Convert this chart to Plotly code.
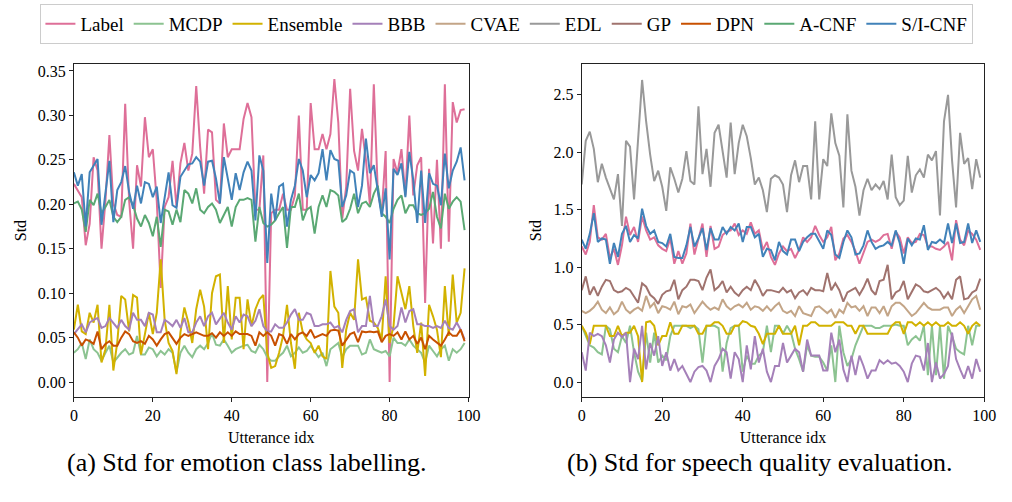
import plotly.graph_objects as go

idx = list(range(100))

# ---------------- (a) emotion class labelling ----------------
a_label = [0.223,0.215,0.208,0.154,0.178,0.253,0.238,0.150,0.204,0.278,
           0.201,0.188,0.186,0.313,0.204,0.150,0.244,0.220,0.298,0.253,
           0.262,0.204,0.106,0.197,0.208,0.249,0.197,0.246,0.269,0.238,
           0.257,0.333,0.264,0.212,0.284,0.281,0.205,0.201,0.291,0.253,
           0.262,0.262,0.262,0.296,0.314,0.298,0.194,0.194,0.255,0.000,
           0.190,0.194,0.194,0.212,0.194,0.194,0.210,0.300,0.194,0.194,
           0.314,0.262,0.262,0.279,0.262,0.279,0.341,0.292,0.184,0.220,
           0.330,0.260,0.238,0.285,0.250,0.200,0.335,0.215,0.190,0.260,
           0.000,0.251,0.235,0.262,0.210,0.300,0.210,0.244,0.253,0.089,
           0.240,0.156,0.250,0.150,0.335,0.158,0.315,0.292,0.306,0.307]
a_mcdp = [0.033,0.037,0.044,0.026,0.048,0.037,0.033,0.024,0.033,0.041,
          0.022,0.028,0.033,0.037,0.031,0.033,0.052,0.031,0.031,0.039,
          0.037,0.029,0.035,0.031,0.037,0.033,0.011,0.033,0.041,0.033,
          0.028,0.037,0.041,0.037,0.044,0.055,0.042,0.041,0.048,0.041,
          0.033,0.037,0.039,0.041,0.042,0.035,0.033,0.042,0.037,0.028,
          0.024,0.024,0.029,0.033,0.041,0.029,0.033,0.039,0.033,0.035,
          0.041,0.035,0.028,0.033,0.018,0.037,0.041,0.044,0.028,0.037,
          0.041,0.041,0.041,0.031,0.033,0.048,0.037,0.035,0.033,0.035,
          0.029,0.050,0.044,0.044,0.041,0.048,0.041,0.037,0.033,0.022,
          0.041,0.035,0.029,0.037,0.041,0.024,0.037,0.033,0.037,0.044]
a_ens = [0.059,0.087,0.057,0.054,0.078,0.067,0.087,0.022,0.037,0.087,
         0.013,0.045,0.097,0.093,0.057,0.098,0.095,0.031,0.054,0.078,
         0.054,0.078,0.138,0.070,0.044,0.035,0.009,0.056,0.084,0.067,
         0.044,0.082,0.104,0.085,0.037,0.100,0.119,0.121,0.044,0.108,
         0.048,0.095,0.095,0.037,0.093,0.063,0.082,0.093,0.098,0.033,
         0.016,0.018,0.033,0.052,0.087,0.044,0.015,0.078,0.056,0.048,
         0.044,0.033,0.041,0.029,0.026,0.125,0.085,0.078,0.016,0.059,
         0.078,0.070,0.138,0.093,0.095,0.069,0.067,0.061,0.048,0.119,
         0.044,0.063,0.119,0.100,0.082,0.108,0.063,0.033,0.067,0.007,
         0.087,0.074,0.059,0.028,0.108,0.052,0.121,0.067,0.078,0.128]
a_bbb = [0.054,0.059,0.065,0.056,0.067,0.070,0.072,0.061,0.063,0.072,
         0.067,0.061,0.070,0.063,0.059,0.078,0.070,0.070,0.063,0.078,
         0.076,0.056,0.056,0.070,0.067,0.063,0.070,0.061,0.072,0.056,
         0.056,0.067,0.074,0.063,0.074,0.078,0.065,0.072,0.078,0.067,
         0.059,0.074,0.067,0.076,0.074,0.063,0.069,0.082,0.063,0.057,
         0.057,0.065,0.061,0.061,0.067,0.076,0.082,0.070,0.070,0.078,
         0.076,0.063,0.063,0.065,0.065,0.067,0.061,0.063,0.056,0.070,
         0.080,0.082,0.056,0.063,0.063,0.097,0.063,0.063,0.074,0.093,
         0.063,0.059,0.063,0.084,0.067,0.080,0.082,0.065,0.065,0.063,
         0.063,0.061,0.063,0.061,0.069,0.061,0.059,0.067,0.059,0.048]
a_dpn = [0.056,0.050,0.041,0.048,0.046,0.043,0.057,0.037,0.043,0.046,
         0.041,0.041,0.050,0.057,0.054,0.046,0.044,0.046,0.043,0.052,
         0.048,0.041,0.048,0.054,0.056,0.050,0.043,0.050,0.054,0.052,
         0.054,0.056,0.054,0.052,0.052,0.055,0.050,0.056,0.052,0.056,
         0.052,0.057,0.054,0.054,0.054,0.052,0.041,0.056,0.052,0.056,
         0.052,0.041,0.054,0.052,0.043,0.054,0.048,0.054,0.056,0.052,
         0.059,0.050,0.052,0.054,0.052,0.058,0.059,0.058,0.041,0.048,
         0.054,0.056,0.045,0.057,0.056,0.057,0.056,0.057,0.045,0.052,
         0.054,0.052,0.056,0.048,0.057,0.048,0.052,0.043,0.050,0.037,
         0.052,0.048,0.044,0.041,0.048,0.056,0.052,0.052,0.059,0.046]
a_acnf = [0.201,0.203,0.194,0.169,0.205,0.199,0.212,0.190,0.197,0.205,
          0.186,0.180,0.186,0.205,0.208,0.199,0.184,0.175,0.188,0.179,
          0.164,0.186,0.152,0.194,0.192,0.177,0.194,0.180,0.216,0.212,
          0.201,0.218,0.194,0.190,0.197,0.201,0.194,0.179,0.188,0.197,
          0.175,0.197,0.205,0.205,0.207,0.205,0.158,0.197,0.179,0.175,
          0.177,0.182,0.190,0.197,0.151,0.197,0.197,0.212,0.182,0.194,
          0.197,0.167,0.197,0.210,0.197,0.216,0.214,0.210,0.180,0.184,
          0.195,0.212,0.190,0.201,0.203,0.197,0.212,0.221,0.190,0.186,
          0.179,0.195,0.205,0.210,0.190,0.199,0.199,0.190,0.188,0.190,
          0.195,0.214,0.186,0.173,0.212,0.195,0.203,0.208,0.203,0.171]
a_sicnf = [0.236,0.221,0.234,0.175,0.236,0.244,0.251,0.177,0.214,0.249,
           0.180,0.216,0.225,0.243,0.214,0.195,0.221,0.201,0.225,0.223,
           0.208,0.220,0.179,0.207,0.236,0.199,0.196,0.231,0.238,0.245,
           0.246,0.253,0.248,0.221,0.248,0.249,0.229,0.201,0.253,0.227,
           0.205,0.235,0.216,0.236,0.248,0.238,0.182,0.255,0.238,0.134,
           0.212,0.182,0.220,0.223,0.175,0.205,0.221,0.251,0.238,0.208,
           0.233,0.227,0.235,0.262,0.227,0.261,0.251,0.249,0.197,0.210,
           0.238,0.235,0.197,0.221,0.274,0.235,0.244,0.216,0.186,0.218,
           0.138,0.240,0.233,0.246,0.208,0.259,0.227,0.179,0.238,0.179,
           0.235,0.223,0.221,0.199,0.257,0.218,0.238,0.248,0.264,0.227]

# ---------------- (b) speech quality evaluation ----------------
b_label = [1.18,1.11,1.22,1.54,1.26,1.24,1.29,1.08,1.16,1.02,
           1.19,1.44,1.28,1.35,1.22,1.44,1.32,1.24,1.26,1.19,
           1.16,1.14,1.25,1.03,1.14,1.03,1.12,1.38,1.11,1.24,
           1.38,1.09,1.36,1.16,1.18,1.28,1.31,1.32,1.38,1.28,
           1.32,1.29,1.39,1.29,1.32,1.15,1.22,1.09,1.02,1.12,
           1.18,1.14,1.16,1.08,1.15,1.26,1.22,1.26,1.36,1.28,
           1.22,1.26,1.35,1.06,1.12,1.25,1.28,1.22,1.14,1.03,
           1.12,1.22,1.24,1.22,1.24,1.28,1.29,1.16,1.31,1.26,
           1.12,1.26,1.21,1.22,1.29,1.28,1.18,1.18,1.16,1.15,
           1.18,1.22,1.06,1.41,1.24,1.19,1.32,1.29,1.24,1.15]
b_mcdp = [0.49,0.40,0.32,0.30,0.26,0.24,0.49,0.46,0.29,0.26,
          0.40,0.34,0.49,0.26,0.09,0.01,0.43,0.17,0.43,0.17,
          0.23,0.19,0.40,0.49,0.49,0.49,0.49,0.47,0.49,0.46,
          0.17,0.49,0.49,0.49,0.47,0.09,0.34,0.47,0.49,0.49,
          0.09,0.23,0.16,0.16,0.23,0.26,0.49,0.26,0.49,0.49,
          0.42,0.49,0.43,0.29,0.20,0.09,0.32,0.23,0.22,0.22,
          0.17,0.10,0.32,0.00,0.49,0.26,0.14,0.20,0.32,0.40,
          0.49,0.49,0.49,0.47,0.47,0.49,0.49,0.49,0.50,0.49,
          0.49,0.32,0.37,0.40,0.36,0.49,0.06,0.49,0.06,0.49,
          0.03,0.49,0.40,0.29,0.26,0.24,0.49,0.32,0.49,0.49]
b_ens = [0.49,0.43,0.33,0.49,0.49,0.49,0.49,0.40,0.40,0.49,
         0.40,0.43,0.43,0.49,0.40,0.00,0.52,0.53,0.49,0.32,
         0.40,0.40,0.52,0.42,0.42,0.49,0.49,0.49,0.49,0.42,
         0.42,0.49,0.49,0.52,0.52,0.49,0.42,0.42,0.49,0.49,
         0.53,0.52,0.49,0.48,0.42,0.33,0.42,0.42,0.42,0.49,
         0.42,0.42,0.42,0.49,0.32,0.49,0.49,0.52,0.52,0.49,
         0.49,0.49,0.49,0.52,0.52,0.52,0.49,0.49,0.42,0.49,
         0.49,0.42,0.42,0.42,0.42,0.42,0.42,0.49,0.52,0.52,
         0.42,0.52,0.52,0.49,0.52,0.49,0.52,0.49,0.52,0.49,
         0.49,0.52,0.49,0.49,0.52,0.49,0.42,0.49,0.52,0.49]
b_bbb = [0.26,0.10,0.43,0.40,0.42,0.40,0.32,0.17,0.37,0.43,
         0.39,0.43,0.00,0.29,0.20,0.49,0.11,0.34,0.23,0.40,
         0.14,0.26,0.10,0.20,0.10,0.14,0.07,0.00,0.09,0.13,
         0.14,0.10,0.00,0.14,0.20,0.29,0.26,0.03,0.26,0.20,
         0.00,0.32,0.11,0.40,0.17,0.29,0.09,0.00,0.14,0.14,
         0.34,0.17,0.23,0.29,0.26,0.09,0.37,0.23,0.23,0.23,
         0.10,0.10,0.43,0.26,0.37,0.11,0.00,0.23,0.06,0.23,
         0.14,0.03,0.10,0.10,0.19,0.16,0.19,0.16,0.17,0.14,
         0.09,0.00,0.16,0.23,0.22,0.10,0.34,0.00,0.17,0.03,
         0.07,0.14,0.43,0.20,0.11,0.03,0.14,0.03,0.20,0.09]
b_cvae = [0.62,0.60,0.62,0.65,0.70,0.63,0.60,0.65,0.59,0.62,
          0.70,0.63,0.60,0.63,0.65,0.62,0.75,0.65,0.69,0.60,
          0.66,0.65,0.63,0.70,0.59,0.66,0.65,0.675,0.60,0.65,
          0.70,0.66,0.63,0.65,0.63,0.72,0.66,0.63,0.66,0.675,
          0.65,0.69,0.63,0.66,0.65,0.62,0.66,0.62,0.66,0.69,
          0.62,0.60,0.62,0.575,0.66,0.60,0.59,0.575,0.65,0.66,
          0.63,0.60,0.63,0.56,0.63,0.60,0.69,0.65,0.66,0.62,
          0.66,0.575,0.65,0.65,0.60,0.66,0.575,0.66,0.69,0.69,
          0.66,0.62,0.575,0.60,0.65,0.69,0.65,0.63,0.63,0.63,
          0.65,0.65,0.575,0.63,0.66,0.60,0.66,0.72,0.75,0.63]
b_edl = [1.72,2.10,2.18,2.03,1.74,1.90,1.78,1.68,1.59,1.81,
         1.36,2.10,2.05,1.59,2.13,2.63,2.27,1.98,1.75,1.84,
         1.70,1.49,1.87,1.77,1.65,1.77,2.01,1.75,1.72,2.40,
         1.81,2.03,1.70,2.17,2.24,2.01,1.78,2.26,1.81,2.08,
         2.24,2.14,1.95,1.72,1.78,1.67,1.48,1.77,1.80,1.78,
         1.72,1.48,1.80,1.93,1.74,1.88,1.88,1.59,2.27,1.59,
         1.94,1.88,2.34,2.08,1.97,1.52,2.33,1.84,1.70,1.45,
         1.67,1.77,1.67,1.72,1.68,1.75,1.59,1.98,1.61,1.54,
         1.58,1.97,1.65,1.80,1.85,1.78,1.98,1.93,2.01,1.45,
         2.27,2.50,1.93,1.52,2.17,1.90,1.95,1.68,1.94,1.78]
b_gp = [0.80,0.92,0.76,0.83,0.75,0.83,0.89,0.88,0.80,0.78,
        0.79,0.82,0.80,0.75,0.69,0.86,0.83,0.76,0.73,0.68,
        0.76,0.79,0.80,0.89,0.72,0.80,0.83,0.89,0.89,0.88,
        0.80,0.91,0.98,0.80,0.83,0.88,0.78,0.83,0.78,0.75,
        0.80,0.83,0.80,0.89,0.83,0.75,0.80,0.80,0.79,0.78,
        0.82,0.78,0.80,0.73,0.78,0.80,0.76,0.82,0.80,0.80,
        0.79,0.95,0.80,0.86,0.80,0.70,0.78,0.80,0.82,0.76,
        0.82,0.90,0.80,0.76,0.88,0.89,1.02,0.72,0.78,0.80,
        0.88,0.72,0.79,0.85,0.83,0.79,0.78,0.80,0.82,0.79,
        0.73,0.78,0.72,0.89,0.92,0.72,0.73,0.78,0.80,0.90]
b_sicnf = [1.24,1.16,1.29,1.47,1.22,1.25,1.24,1.03,1.21,1.09,
           1.29,1.36,1.22,1.28,1.25,1.51,1.36,1.29,1.32,1.22,
           1.21,1.18,1.29,1.09,1.08,1.08,1.19,1.35,1.18,1.25,
           1.34,1.15,1.34,1.24,1.24,1.35,1.29,1.35,1.32,1.38,
           1.22,1.35,1.35,1.26,1.29,1.09,1.16,1.15,1.06,1.22,
           1.14,1.11,1.24,1.24,1.14,1.22,1.26,1.29,1.29,1.22,
           1.16,1.32,1.28,1.11,1.08,1.22,1.32,1.26,1.11,1.12,
           1.19,1.32,1.22,1.16,1.18,1.19,1.22,1.19,1.32,1.21,
           1.03,1.25,1.19,1.25,1.24,1.365,1.15,1.22,1.21,1.24,
           1.21,1.38,1.21,1.38,1.21,1.22,1.38,1.21,1.32,1.22]

methods = ["Label", "MCDP", "Ensemble", "BBB", "CVAE", "EDL", "GP", "DPN", "A-CNF", "S/I-CNF"]
colors = ["#de6f98", "#8cc391", "#d2b200", "#a580b9", "#c3a587",
          "#999999", "#a0736e", "#c85000", "#5aa873", "#4182b9"]
left_data = {"Label": a_label, "MCDP": a_mcdp, "Ensemble": a_ens, "BBB": a_bbb,
             "DPN": a_dpn, "A-CNF": a_acnf, "S/I-CNF": a_sicnf}
right_data = {"Label": b_label, "MCDP": b_mcdp, "Ensemble": b_ens, "BBB": b_bbb,
              "CVAE": b_cvae, "EDL": b_edl, "GP": b_gp, "S/I-CNF": b_sicnf}

FONT = "Liberation Serif, Times New Roman, serif"
W, H = 1012, 502

fig = go.Figure()
for m, c in zip(methods, colors):
    first = True
    for data, xa, ya in ((left_data, "x", "y"), (right_data, "x2", "y2")):
        if m in data:
            fig.add_trace(go.Scatter(x=idx, y=data[m], mode="lines", name=m,
                                     line=dict(color=c, width=2),
                                     xaxis=xa, yaxis=ya, legendgroup=m,
                                     showlegend=first))
            first = False

def px_x(p):
    return p / W

def px_y(p):
    return 1 - p / H

axis_common = dict(showline=True, mirror=True, linecolor="#222", linewidth=1,
                   ticks="outside", ticklen=4, tickcolor="#222", showgrid=False,
                   zeroline=False, tickfont=dict(size=16, family=FONT, color="black"))

ydom = [px_y(397), px_y(63)]
fig.update_layout(
    width=W, height=H, autosize=False,
    margin=dict(l=0, r=0, t=0, b=0),
    paper_bgcolor="white", plot_bgcolor="white",
    font=dict(family=FONT, color="black", size=16),
    xaxis=dict(domain=[px_x(71), px_x(472)], range=[0, 100], tickvals=[0, 20, 40, 60, 80, 100],
               title=dict(text="Utterance idx", standoff=8, font=dict(size=16)), anchor="y", **axis_common),
    yaxis=dict(domain=ydom, range=[-0.017, 0.358], tickvals=[0, 0.05, 0.10, 0.15, 0.20, 0.25, 0.30, 0.35],
               tickformat=".2f", title=dict(text="Std", standoff=7, font=dict(size=16)), anchor="x", **axis_common),
    xaxis2=dict(domain=[px_x(587), px_x(996)], range=[0, 100], tickvals=[0, 20, 40, 60, 80, 100],
                title=dict(text="Utterance idx", standoff=8, font=dict(size=16)), anchor="y2", **axis_common),
    yaxis2=dict(domain=ydom, range=[-0.132, 2.77], tickvals=[0, 0.5, 1.0, 1.5, 2.0, 2.5],
                tickformat=".1f", title=dict(text="Std", standoff=7, font=dict(size=16)), anchor="x2", **axis_common),
    legend=dict(orientation="h", x=px_x(511), xanchor="center", y=px_y(3), yanchor="top",
                bgcolor="white", bordercolor="#cccccc", borderwidth=1,
                font=dict(size=19, family=FONT), itemwidth=30, tracegroupgap=0),
    annotations=[
        dict(text="(a) Std for emotion class labelling.", x=px_x(247), y=px_y(462),
             xref="paper", yref="paper", xanchor="center", yanchor="middle",
             showarrow=False, font=dict(size=26, family=FONT)),
        dict(text="(b) Std for speech quality evaluation.", x=px_x(768), y=px_y(462),
             xref="paper", yref="paper", xanchor="center", yanchor="middle",
             showarrow=False, font=dict(size=26, family=FONT)),
    ],
)

post = ("document.body.style.margin='0';document.body.style.overflow='hidden';"
        "var gd=document.getElementById('{plot_id}');"
        "gd.style.width='1012px';gd.style.height='502px';"
        "Plotly.relayout(gd,{width:1012,height:502});")

fig.write_html("out.html", config={"displayModeBar": False}, post_script=post)
